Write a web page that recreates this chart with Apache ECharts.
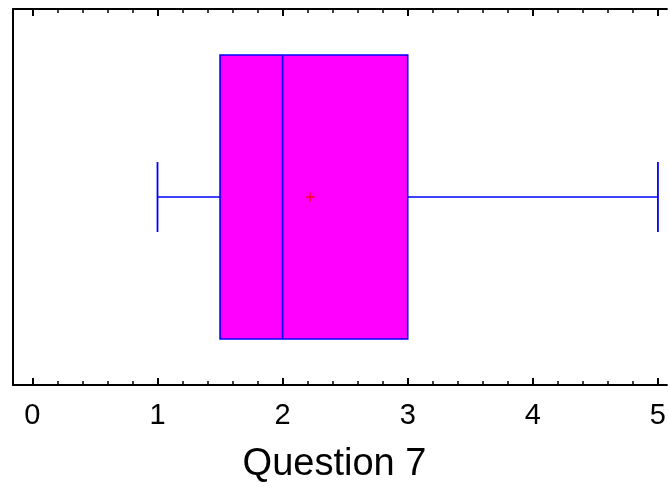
<!DOCTYPE html>
<html>
<head>
<meta charset="utf-8">
<script src="https://cdn.jsdelivr.net/npm/echarts@6/dist/echarts.min.js"></script>
<style>
  html, body { margin: 0; padding: 0; background: #ffffff; }
  #chart { width: 669px; height: 487px; }
</style>
</head>
<body>
<div id="chart"></div>
<script>
// Five-number summary plus mean for one survey question
const categories = ['Question 7'];
const minValues = [1];
const q1Values = [1.5];
const medianValues = [2];
const q3Values = [3];
const maxValues = [5];
const meanValues = [2.22];

const majorTicks = [0, 1, 2, 3, 4, 5];
const minorTicks = [0.2, 0.4, 0.6, 0.8, 1.2, 1.4, 1.6, 1.8, 2.2, 2.4, 2.6, 2.8,
                    3.2, 3.4, 3.6, 3.8, 4.2, 4.4, 4.6, 4.8];

const X_MIN = -0.155;
const X_MAX = 5.072;

const boxData = categories.map((c, i) => [
  i, minValues[i], q1Values[i], medianValues[i], q3Values[i], maxValues[i], meanValues[i]
]);

const BLUE = '#0000ff';

function renderBox(params, api) {
  const cat = api.value(0);
  const pMin = api.coord([api.value(1), cat]);
  const pQ1 = api.coord([api.value(2), cat]);
  const pMed = api.coord([api.value(3), cat]);
  const pQ3 = api.coord([api.value(4), cat]);
  const pMax = api.coord([api.value(5), cat]);
  const pMean = api.coord([api.value(6), cat]);
  const band = api.size([0, 1])[1];
  const boxH = band * 0.755;
  const capH = band * 0.186;
  const cy = Math.round(pMed[1]);
  const top = cy - boxH / 2;
  const crossR = 4.5;
  return {
    type: 'group',
    children: [
      { type: 'line', shape: { x1: pMin[0], y1: cy, x2: pQ1[0], y2: cy },
        style: { stroke: BLUE, lineWidth: 1.6 } },
      { type: 'line', shape: { x1: pQ3[0], y1: cy, x2: pMax[0], y2: cy },
        style: { stroke: BLUE, lineWidth: 1.6 } },
      { type: 'line', shape: { x1: pMin[0], y1: cy - capH / 2, x2: pMin[0], y2: cy + capH / 2 },
        style: { stroke: BLUE, lineWidth: 1.8 } },
      { type: 'line', shape: { x1: pMax[0], y1: cy - capH / 2, x2: pMax[0], y2: cy + capH / 2 },
        style: { stroke: BLUE, lineWidth: 1.8 } },
      { type: 'rect', shape: { x: pQ1[0], y: top, width: pQ3[0] - pQ1[0], height: boxH },
        style: { fill: '#ff00ff', stroke: BLUE, lineWidth: 1.6 } },
      { type: 'line', shape: { x1: pMed[0], y1: top, x2: pMed[0], y2: top + boxH },
        style: { stroke: BLUE, lineWidth: 1.6 } },
      { type: 'line', shape: { x1: pMean[0] - crossR, y1: cy, x2: pMean[0] + crossR, y2: cy },
        style: { stroke: '#ff0000', lineWidth: 1.2 } },
      { type: 'line', shape: { x1: pMean[0], y1: cy - crossR, x2: pMean[0], y2: cy + crossR },
        style: { stroke: '#ff0000', lineWidth: 1.2 } }
    ]
  };
}

const tickAxis = (position, values, length, withLine, withLabels) => ({
  type: 'value',
  position: position,
  min: X_MIN,
  max: X_MAX,
  splitLine: { show: false },
  axisLine: { show: withLine, onZero: false, lineStyle: { color: '#000', width: 2 } },
  axisTick: { show: true, inside: true, length: length, customValues: values,
              lineStyle: { color: '#000', width: length > 5 ? 2 : 1.5 } },
  axisLabel: withLabels
    ? { show: true, customValues: values, fontSize: 29, color: '#000',
        fontFamily: 'Liberation Sans, Arial, sans-serif', margin: 16 }
    : { show: false }
});

const chart = echarts.init(document.getElementById('chart'), null, { renderer: 'canvas' });
chart.setOption({
  animation: false,
  backgroundColor: '#ffffff',
  grid: { left: 13, right: 0, top: 9, bottom: 102, containLabel: false },
  title: {
    text: 'Question 7',
    left: 'center',
    top: 441,
    textStyle: { fontSize: 38, fontWeight: 'normal', color: '#000',
                 fontFamily: 'Liberation Sans, Arial, sans-serif' }
  },
  xAxis: [
    tickAxis('bottom', majorTicks, 7, true, true),
    tickAxis('bottom', minorTicks, 4, false, false),
    tickAxis('top', majorTicks, 7, true, false),
    tickAxis('top', minorTicks, 4, false, false)
  ],
  yAxis: {
    type: 'category',
    data: categories,
    position: 'left',
    axisLine: { show: true, onZero: false, lineStyle: { color: '#000', width: 2 } },
    axisTick: { show: false },
    axisLabel: { show: false },
    splitLine: { show: false }
  },
  series: [{
    type: 'custom',
    xAxisIndex: 0,
    yAxisIndex: 0,
    renderItem: renderBox,
    encode: { x: [1, 2, 3, 4, 5, 6], y: 0 },
    data: boxData,
    clip: false
  }]
});
</script>
</body>
</html>
